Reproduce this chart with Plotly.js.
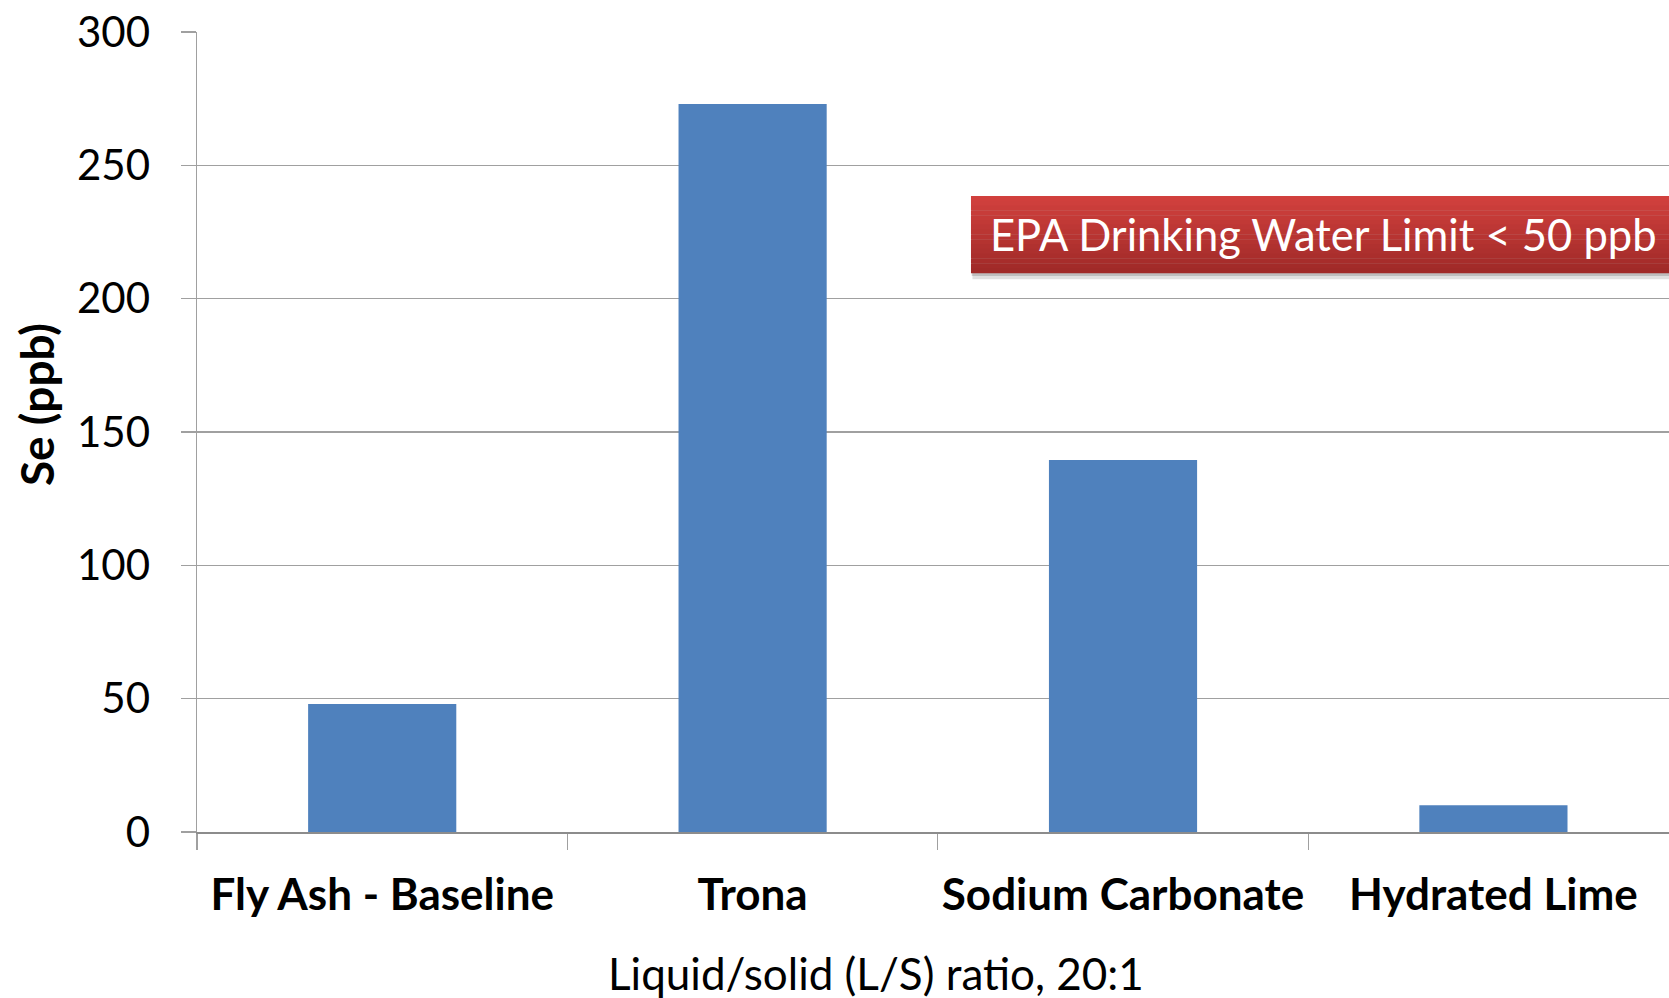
<!DOCTYPE html>
<html>
<head>
<meta charset="utf-8">
<script src="https://cdn.plot.ly/plotly-3.0.1.min.js"></script>
<style>html,body{margin:0;padding:0;background:#fff;}#chart{width:1669px;height:998px;}</style>
</head>
<body>
<div id="chart"></div>
<script>
// ---- data ----
const categories = ["Fly Ash - Baseline", "Trona", "Sodium Carbonate", "Hydrated Lime"];
const seValues = [48, 273, 139.5, 10];
const yTickValues = [0, 50, 100, 150, 200, 250, 300];
const xAxisTitle = "Liquid/solid (L/S) ratio, 20:1";
const yAxisTitle = "Se (ppb)";
const calloutText = "EPA Drinking Water Limit < 50 ppb";

const FONT = "Lato, 'Open Sans', sans-serif";
const GRID = "#a0a0a0";

// callout box (paper coords) with gradient stripes
const box = {x0: 0.5258, x1: 1.02, y0: 0.699, y1: 0.795};
const shapes = [];
// shadow
shapes.push({type: "rect", xref: "paper", yref: "paper", x0: box.x0 + 0.001, x1: box.x1, y0: box.y0 - 0.008, y1: box.y1 - 0.004,
  fillcolor: "rgba(0,0,0,0.12)", line: {width: 0}, layer: "above"});
shapes.push({type: "rect", xref: "paper", yref: "paper", x0: box.x0 + 0.0005, x1: box.x1, y0: box.y0 - 0.004, y1: box.y1 - 0.002,
  fillcolor: "rgba(0,0,0,0.15)", line: {width: 0}, layer: "above"});
const nStripes = 16;
const colTop = [209, 64, 61], colBot = [160, 42, 40];
for (let i = 0; i < nStripes; i++) {
  const t = i / (nStripes - 1);
  const c = colTop.map((v, k) => Math.round(v + (colBot[k] - v) * t));
  const h = (box.y1 - box.y0) / nStripes;
  shapes.push({type: "rect", xref: "paper", yref: "paper", x0: box.x0, x1: box.x1,
    y0: box.y1 - (i + 1) * h - 0.0005, y1: box.y1 - i * h,
    fillcolor: `rgb(${c[0]},${c[1]},${c[2]})`, line: {width: 0}, layer: "above"});
}

const trace = {
  type: "bar",
  x: categories,
  y: seValues,
  width: 0.4,
  marker: {color: "#4f81bd", line: {width: 0}},
  hoverinfo: "x+y"
};

const layout = {
  width: 1669, height: 998,
  margin: {l: 197, r: 0, t: 32, b: 165.5, pad: 0},
  paper_bgcolor: "#ffffff", plot_bgcolor: "#ffffff",
  showlegend: false,
  font: {family: FONT, color: "#000"},
  xaxis: {
    type: "category",
    range: [-0.5, 3.474],
    tickson: "boundaries",
    tickangle: 0,
    ticks: "outside", ticklen: 16, tickwidth: 1.3, tickcolor: GRID,
    showline: true, linecolor: "#8c8c8c", linewidth: 1.5,
    showgrid: false, zeroline: false,
    tickfont: {family: FONT, size: 44, color: "#000", weight: "bold"},
    ticklabelstandoff: 24,
    automargin: false
  },
  yaxis: {
    range: [0, 300],
    tickvals: yTickValues,
    ticks: "outside", ticklen: 15, tickwidth: 1.3, tickcolor: GRID,
    showline: true, linecolor: GRID, linewidth: 1.5,
    showgrid: true, gridcolor: GRID, gridwidth: 1.4,
    zeroline: false,
    tickfont: {family: FONT, size: 42, color: "#000"},
    ticklabelstandoff: 22,
    automargin: false
  },
  shapes: shapes,
  annotations: [
    {
      xref: "paper", yref: "paper",
      x: 0.7656, y: (box.y0 + box.y1) / 2,
      xanchor: "center", yanchor: "middle",
      text: calloutText, showarrow: false,
      font: {family: FONT, size: 43.5, color: "#ffffff"}
    },
    {
      xref: "paper", yref: "paper",
      x: 0.461, y: -0.1768,
      xanchor: "center", yanchor: "middle",
      text: xAxisTitle, showarrow: false,
      font: {family: FONT, size: 44, color: "#000"}
    },
    {
      xref: "paper", yref: "paper",
      x: -0.1095, y: 0.5347,
      xanchor: "center", yanchor: "middle",
      textangle: -90,
      text: "<b>" + yAxisTitle + "</b>", showarrow: false,
      font: {family: FONT, size: 46, color: "#000"}
    }
  ]
};

Plotly.newPlot("chart", [trace], layout, {displayModeBar: false, staticPlot: true});
</script>
</body>
</html>
